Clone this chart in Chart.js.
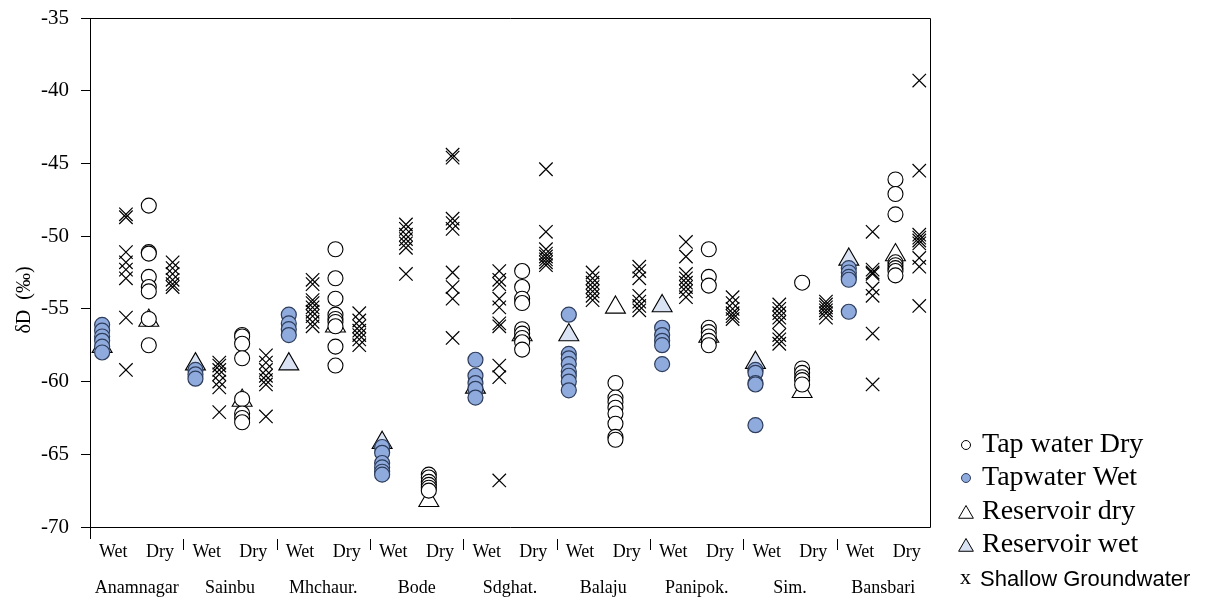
<!DOCTYPE html>
<html>
<head>
<meta charset="utf-8">
<script src="https://cdn.jsdelivr.net/npm/chart.js@4"></script>
<style>
  html, body { margin: 0; padding: 0; background: #fff; }
  #wrap { width: 1216px; height: 599px; position: relative; }
</style>
</head>
<body>
<div id="wrap"><canvas id="isoChart"></canvas></div>
<script>
// Sites along the x axis, each split into a Wet and a Dry slot
const sites = ['Anamnagar', 'Sainbu', 'Mhchaur.', 'Bode', 'Sdghat.', 'Balaju', 'Panipok.', 'Sim.', 'Bansbari'];
const seasons = ['Wet', 'Dry'];
const yTicks = [-70, -65, -60, -55, -50, -45, -40, -35];

// dD values (per mil), one list per site
const tapWet = [
    [-56.1, -56.5, -56.9, -57.2, -57.6, -58.0],
    [-59.2, -59.5, -59.8],
    [-55.4, -56.0, -56.4, -56.8],
    [-64.5, -64.9, -65.6, -65.9, -66.2, -66.4],
    [-58.5, -59.6, -60.1, -60.5, -61.1],
    [-55.4, -58.1, -58.4, -58.8, -59.3, -59.6, -60.0, -60.6],
    [-56.3, -56.8, -57.2, -57.5, -58.8],
    [-59.2, -59.4, -60.1, -60.2, -63.0],
    [-52.2, -52.5, -52.8, -53.0, -55.2]
];
const tapDry = [
    [-47.9, -51.1, -51.2, -52.8, -53.5, -53.8, -55.7, -57.5],
    [-56.8, -56.9, -57.4, -58.4, -61.2, -62.2, -62.5, -62.8],
    [-50.9, -52.9, -54.3, -55.4, -55.7, -55.9, -56.2, -57.6, -58.9],
    [-66.4, -66.6, -66.9, -67.1, -67.3, -67.5],
    [-52.4, -53.5, -54.3, -54.6, -56.4, -56.7, -57.0, -57.3, -57.8],
    [-60.1, -61.1, -61.4, -61.8, -62.2, -62.9, -63.8, -64.0],
    [-50.9, -52.8, -53.4, -56.3, -56.6, -56.9, -57.2, -57.5],
    [-53.2, -59.1, -59.4, -59.7, -59.9, -60.2],
    [-46.1, -47.1, -48.5, -51.8, -52.0, -52.2, -52.4, -52.7]
];
const reservoirWet = [-57.6, -58.8, -58.8, -64.2, -60.4, -56.8, -54.8, -58.7, -51.6];
const reservoirDry = [-55.8, -61.3, -56.2, -68.2, -56.8, -54.9, -56.9, -60.7, -51.3];
const groundWet = [
    [-48.5, -48.7, -51.1, -51.8, -52.3, -52.9, -55.6, -59.2],
    [-58.7, -58.9, -59.2, -59.5, -60.0, -60.4, -62.1],
    [-53.0, -53.3, -54.4, -54.6, -54.9, -55.2, -55.5, -55.9, -56.2],
    [-49.2, -49.5, -49.9, -50.2, -50.5, -50.8, -52.6],
    [-52.4, -53.0, -53.3, -54.3, -54.9, -56.0, -56.2, -58.9, -59.7, -66.8],
    [-52.5, -52.9, -53.2, -53.5, -53.8, -54.1, -54.4],
    [-50.4, -51.4, -52.6, -52.9, -53.2, -53.5, -53.8, -54.2],
    [-54.7, -55.0, -55.3, -55.6, -55.9, -56.8, -57.1, -57.4],
    [-49.7, -52.3, -52.5, -52.6, -53.6, -54.1, -56.7, -60.2]
];
const groundDry = [
    [-51.8, -52.2, -52.6, -53.0, -53.3, -53.5],
    [-58.2, -58.7, -59.2, -59.6, -59.9, -60.2, -62.4],
    [-55.3, -55.8, -56.2, -56.5, -56.8, -57.1, -57.5],
    [-44.4, -44.6, -48.8, -49.1, -49.5, -52.5, -53.5, -54.3, -57.0],
    [-45.4, -49.7, -50.9, -51.2, -51.4, -51.6, -51.8, -52.0],
    [-52.1, -52.4, -52.9, -54.1, -54.5, -54.8, -55.1],
    [-54.2, -54.6, -55.0, -55.3, -55.5, -55.7],
    [-54.5, -54.7, -54.9, -55.1, -55.3, -55.6],
    [-39.3, -45.5, -49.9, -50.1, -50.3, -50.5, -51.5, -52.1, -54.8]
];

// where inside a Wet/Dry slot each kind of sample sits
const tapOffset = 0.26;
const groundOffset = 0.77;

function toPoints(values, season, offset) {
    const points = [];
    values.forEach((v, i) => {
        [].concat(v).forEach(y => points.push({ x: 2 * i + season + offset, y: y }));
    });
    return points;
}

const serif = '"Liberation Serif", "Times New Roman", serif';
const blueFill = '#8FAADC';
const blueEdge = '#2E3D5C';
const paleBlue = '#DAE3F3';

const datasets = [
    { label: 'Tap water Dry', data: toPoints(tapDry, 1, tapOffset), pointStyle: 'circle', pointRadius: 7.5,
      backgroundColor: '#fff', borderColor: '#000', borderWidth: 1.1 },
    { label: 'Tapwater Wet', data: toPoints(tapWet, 0, tapOffset), pointStyle: 'circle', pointRadius: 7.5,
      backgroundColor: blueFill, borderColor: blueEdge, borderWidth: 1.2 },
    { label: 'Reservoir dry', data: toPoints(reservoirDry, 1, tapOffset), pointStyle: 'triangle', pointRadius: 11.5,
      backgroundColor: '#fff', borderColor: '#000', borderWidth: 1.1 },
    { label: 'Reservoir wet', data: toPoints(reservoirWet, 0, tapOffset), pointStyle: 'triangle', pointRadius: 11.5,
      backgroundColor: paleBlue, borderColor: '#000', borderWidth: 1.1 },
    { label: 'Shallow Groundwater', data: toPoints(groundWet, 0, groundOffset).concat(toPoints(groundDry, 1, groundOffset)),
      pointStyle: 'crossRot', pointRadius: 9.5, backgroundColor: '#000', borderColor: '#000', borderWidth: 1.2 }
];

// frame, separators, y title and legend drawn on top of the scales
const extrasPlugin = {
    id: 'extras',
    afterDraw(chart) {
        const ctx = chart.ctx;
        const area = chart.chartArea;
        const xScale = chart.scales.x;
        ctx.save();
        ctx.strokeStyle = '#000';
        ctx.lineWidth = 1;
        ctx.beginPath();
        ctx.moveTo(area.left, area.top + 0.5);
        ctx.lineTo(area.right + 0.5, area.top + 0.5);
        ctx.lineTo(area.right + 0.5, area.bottom + 0.5);
        ctx.lineTo(area.left, area.bottom + 0.5);
        ctx.moveTo(area.left + 0.5, area.bottom);
        ctx.lineTo(area.left + 0.5, area.bottom + 12);
        for (let i = 1; i < sites.length; i++) {
            const px = Math.round(xScale.getPixelForValue(2 * i)) + 0.5;
            ctx.moveTo(px, area.bottom + 12);
            ctx.lineTo(px, area.bottom + 23);
        }
        ctx.stroke();

        // y axis title
        ctx.translate(25, 300);
        ctx.rotate(-Math.PI / 2);
        ctx.fillStyle = '#000';
        ctx.font = '20px ' + serif;
        ctx.textAlign = 'center';
        ctx.textBaseline = 'middle';
        ctx.fillText('\u03B4D  (\u2030)', 0, 0);
        ctx.restore();

        // legend
        ctx.save();
        const rows = [445, 478, 512, 545, 580];
        const markerX = 966;
        const textX = 982;
        ctx.textBaseline = 'middle';
        ctx.textAlign = 'left';
        chart.data.datasets.forEach((ds, i) => {
            const y = rows[i];
            ctx.fillStyle = ds.backgroundColor;
            ctx.strokeStyle = ds.borderColor;
            ctx.lineWidth = 1;
            if (ds.pointStyle === 'crossRot') {
                ctx.fillStyle = '#000';
                ctx.font = '22px ' + serif;
                ctx.fillText('x', markerX - 6, y - 2);
                ctx.font = '22px "Liberation Sans", Arial, sans-serif';
                ctx.fillText(ds.label, textX - 2, y);
            } else {
                const r = ds.pointStyle === 'triangle' ? 8.5 : 4.5;
                Chart.helpers.drawPoint(ctx, { pointStyle: ds.pointStyle, radius: r, rotation: 0, borderWidth: 1 },
                    markerX, ds.pointStyle === 'triangle' ? y + 2 : y);
                ctx.fillStyle = '#000';
                ctx.font = '28px ' + serif;
                ctx.fillText(ds.label, textX, y);
            }
        });
        ctx.restore();
    }
};

const ctx = document.getElementById('isoChart').getContext('2d');
const isoChart = new Chart(ctx, {
    type: 'scatter',
    data: { datasets: datasets },
    options: {
        responsive: true,
        maintainAspectRatio: false,
        devicePixelRatio: 1,
        animation: false,
        layout: { padding: { top: 18, right: 286, bottom: 0, left: 0 } },
        plugins: {
            legend: { display: false },
            tooltip: { enabled: false }
        },
        scales: {
            x: {
                type: 'linear',
                position: 'bottom',
                min: 0,
                max: 18,
                grid: { display: false, drawTicks: false },
                border: { display: false },
                afterBuildTicks: scale => {
                    scale.ticks = [];
                    for (let k = 0; k < sites.length * 2; k++) scale.ticks.push({ value: k + 0.5 });
                },
                afterFit: scale => { scale.height = 36; },
                ticks: {
                    autoSkip: false,
                    maxRotation: 0,
                    padding: 14,
                    color: '#000',
                    font: { family: serif, size: 18 },
                    callback: v => seasons[Math.floor(v) % 2]
                }
            },
            x2: {
                type: 'linear',
                position: 'bottom',
                min: 0,
                max: 18,
                grid: { display: false, drawTicks: false },
                border: { display: false },
                afterBuildTicks: scale => {
                    scale.ticks = sites.map((s, i) => ({ value: 2 * i + 1 }));
                },
                afterFit: scale => { scale.height = 36; },
                ticks: {
                    autoSkip: false,
                    maxRotation: 0,
                    padding: 14,
                    color: '#000',
                    font: { family: serif, size: 18 },
                    callback: v => sites[(v - 1) / 2]
                }
            },
            y: {
                min: -70,
                max: -35,
                afterBuildTicks: scale => {
                    scale.ticks = yTicks.map(v => ({ value: v }));
                },
                afterFit: scale => {
                    scale.width = 90;
                    scale.paddingTop = 0;
                    scale.paddingBottom = 0;
                },
                grid: { drawOnChartArea: false, tickLength: 9, color: '#000' },
                border: { display: true, color: '#000', width: 1 },
                ticks: {
                    padding: 12,
                    color: '#000',
                    font: { family: serif, size: 21 }
                }
            }
        }
    },
    plugins: [extrasPlugin]
});
</script>
</body>
</html>
